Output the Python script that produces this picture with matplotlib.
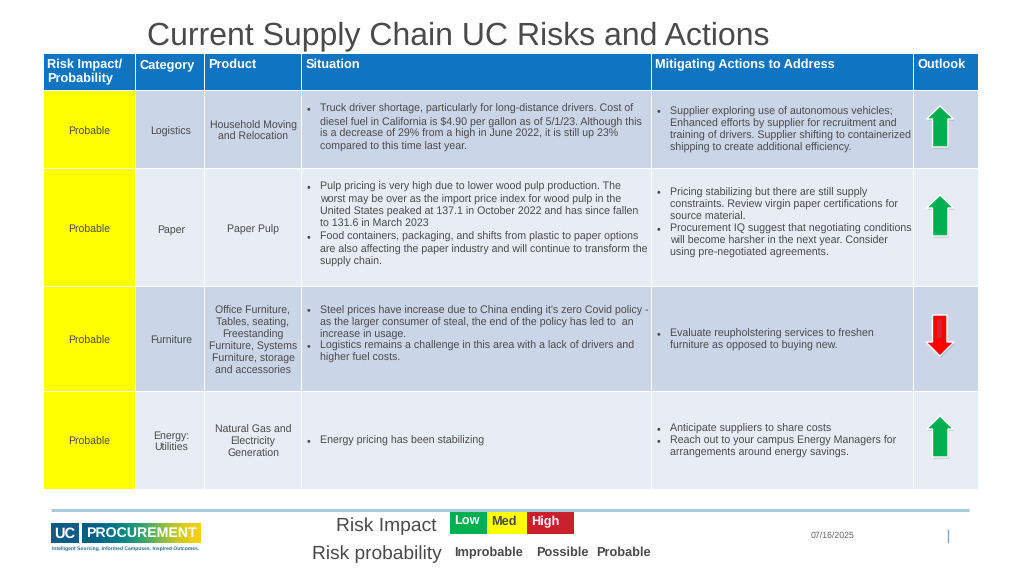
import numpy as np
import matplotlib
matplotlib.use('Agg')
import matplotlib.pyplot as plt
from matplotlib.patches import Rectangle, Polygon

plt.rcParams['font.family'] = ['Liberation Sans', 'DejaVu Sans']
plt.rcParams['text.hinting'] = 'no_hinting'

title = 'Current Supply Chain UC Risks and Actions'
headers = ['Risk Impact/\nProbability', 'Category', 'Product', 'Situation',
           'Mitigating Actions to Address', 'Outlook']
risk = ['Probable', 'Probable', 'Probable', 'Probable']
categories = ['Logistics', 'Paper', 'Furniture', 'Energy:\nUtilities']
products = ['Household Moving\nand Relocation',
            'Paper Pulp',
            'Office Furniture,\nTables, seating,\nFreestanding\nFurniture, Systems\nFurniture, storage\nand accessories',
            'Natural Gas and\nElectricity\nGeneration']
# each bullet is a list of wrapped lines
situation = [
    [['Truck driver shortage, particularly for long-distance drivers. Cost of',
      'diesel fuel in California is $4.90 per gallon as of 5/1/23. Although this',
      'is a decrease of 29% from a high in June 2022, it is still up 23%',
      'compared to this time last year.']],
    [['Pulp pricing is very high due to lower wood pulp production. The',
      'worst may be over as the import price index for wood pulp in the',
      'United States peaked at 137.1 in October 2022 and has since fallen',
      'to 131.6 in March 2023'],
     ['Food containers, packaging, and shifts from plastic to paper options',
      'are also affecting the paper industry and will continue to transform the',
      'supply chain.']],
    [["Steel prices have increase due to China ending it's zero Covid policy -",
      'as the larger consumer of steal, the end of the policy has led to  an',
      'increase in usage.'],
     ['Logistics remains a challenge in this area with a lack of drivers and',
      'higher fuel costs.']],
    [['Energy pricing has been stabilizing']],
]
actions = [
    [['Supplier exploring use of autonomous vehicles;',
      'Enhanced efforts by supplier for recruitment and',
      'training of drivers. Supplier shifting to containerized',
      'shipping to create additional efficiency.']],
    [['Pricing stabilizing but there are still supply',
      'constraints. Review virgin paper certifications for',
      'source material.'],
     ['Procurement IQ suggest that negotiating conditions',
      'will become harsher in the next year. Consider',
      'using pre-negotiated agreements.']],
    [['Evaluate reupholstering services to freshen',
      'furniture as opposed to buying new.']],
    [['Anticipate suppliers to share costs'],
     ['Reach out to your campus Energy Managers for',
      'arrangements around energy savings.']],
]
outlook = ['up', 'up', 'down', 'up']
impact_labels = ['Low', 'Med', 'High']
probability_labels = ['Improbable', 'Possible', 'Probable']
date_text = '07/16/2025'

# layout, in pixels of the 1024x576 slide
col_x = [43, 135.5, 204.5, 301.5, 651.5, 913.5, 978]
row_y = [54, 90.5, 168.5, 286.5, 391.5, 489]
band = ['#CBD5E8', '#E7ECF5', '#CBD5E8', '#E7ECF5']
text_col = '#4A4A4A'
sit_dy = [-1.6, -3, -4.6, 0.9]
act_dy = [0.4, -4.6, 0.9, 0.9]
mid_dy = [2.7, 2.7, 1.7, 1.7]
arrow_y = [127, 216, 335, 437]
fs = 7.65
fs_mid = 7.6

fig = plt.figure(figsize=(10.24, 5.76), dpi=100)
ax = fig.add_axes([0, 0, 1, 1])
ax.set_xlim(0, 1024)
ax.set_ylim(576, 0)
ax.axis('off')


def box(x0, y0, x1, y1, color):
    ax.add_patch(Rectangle((x0, y0), x1 - x0, y1 - y0, facecolor=color, edgecolor='none'))


def bullets(x, yc, items, line_h):
    n = sum(len(b) for b in items)
    y = yc - (n - 1) * line_h / 2
    for b in items:
        ax.text(x + 6, y, '•', fontsize=fs, color=text_col, ha='center', va='center')
        for line in b:
            ax.text(x + 18, y, line, fontsize=fs, color=text_col, ha='left', va='center')
            y += line_h


def arrow(cx, yc, way):
    if way == 'up':
        pts = [(cx, yc - 21), (cx + 13.5, yc - 8), (cx + 8, yc - 8), (cx + 8, yc + 20),
               (cx - 7.5, yc + 20), (cx - 7.5, yc - 8), (cx - 13.5, yc - 8)]
        color = '#00B050'
    else:
        pts = [(cx, yc + 21), (cx + 14, yc + 7), (cx + 7, yc + 7), (cx + 7, yc - 20),
               (cx - 7.5, yc - 20), (cx - 7.5, yc + 7), (cx - 14, yc + 7)]
        color = '#FF0000'
    ax.add_patch(Polygon(np.array(pts) + [1, 1.5], facecolor='#8C95A3', edgecolor='none', alpha=0.55))
    ax.add_patch(Polygon(pts, facecolor=color, edgecolor='white', linewidth=1.0, joinstyle='miter'))
    if way == 'down':
        # dark smudge in the shaft of the red arrow
        box(cx - 3, yc - 16, cx + 2, yc + 3, '#C9282F')


ax.text(147, 36, title, fontsize=23.0, color=text_col, ha='left', va='center')

# header
for i, h in enumerate(headers):
    box(col_x[i] + 0.5, row_y[0], col_x[i + 1] - 0.5, row_y[1] - 0.5, '#0F75C1')
    ax.text(col_x[i] + 3.8, 58.5, h, fontsize=9.2, fontweight='bold', color='white',
            ha='left', va='top', linespacing=1.24)

# body
for r in range(4):
    y0, y1 = row_y[r + 1] + 0.5, row_y[r + 2] - 0.5
    yc = (y0 + y1) / 2
    for c in range(6):
        box(col_x[c] + 0.5, y0, col_x[c + 1] - 0.5, y1, '#FFFF00' if c == 0 else band[r])
    ax.text(89, yc + mid_dy[r], risk[r], fontsize=fs_mid, color=text_col, ha='center', va='center')
    ax.text(171, yc + mid_dy[r], categories[r], fontsize=fs_mid, color=text_col, ha='center', va='center', linespacing=1.25)
    ax.text(253, yc + 2, products[r], fontsize=fs_mid, color=text_col, ha='center', va='center', linespacing=1.23)
    bullets(302, yc + sit_dy[r], situation[r], 12.5 if r < 2 else 11.9)
    bullets(652, yc + act_dy[r], actions[r], 12.1)
    arrow(940, arrow_y[r], outlook[r])

# footer rule
ax.plot([51, 969], [509.5, 509.5], color='#A9CBDD', linewidth=2.2, solid_capstyle='butt')

# logo
box(51, 523, 79, 543, '#0F5C86')
ax.imshow(np.array([[[0.0, 0.36, 0.53], [0.0, 0.55, 0.55], [0.4, 0.72, 0.35], [0.98, 0.82, 0.05]]]),
          extent=(82, 201, 543, 523), aspect='auto', interpolation='bicubic', zorder=1)
ax.set_xlim(0, 1024)
ax.set_ylim(576, 0)
ax.text(65, 533.5, 'UC', fontsize=10.5, fontweight='bold', color='white', ha='center', va='center', zorder=3)
ax.text(141.5, 533.5, 'PROCUREMENT', fontsize=10.15, fontweight='bold', color='white', ha='center', va='center', zorder=3)
ax.text(126, 549, 'Intelligent Sourcing. Informed Campuses. Inspired Outcomes.', fontsize=3.63,
        fontweight='bold', color='#1F6E8C', ha='center', va='center')

# risk key
ax.text(437, 526, 'Risk Impact', fontsize=13.9, color=text_col, ha='right', va='center')
ax.text(442, 554, 'Risk probability', fontsize=13.8, color=text_col, ha='right', va='center')
key_x = [450, 487, 527, 574]
key_col = ['#00B050', '#FFFF00', '#C9202B']
key_txt = ['white', text_col, 'white']
for i, lab in enumerate(impact_labels):
    box(key_x[i], 512, key_x[i + 1], 534, key_col[i])
    ax.text(key_x[i] + 4, 521.5, lab, fontsize=9.2, fontweight='bold', color=key_txt[i], ha='left', va='center')
for x, lab in zip([454, 536, 596], probability_labels):
    ax.text(x, 553, lab, fontsize=9.2, fontweight='bold', color=text_col, ha='left', va='center')

ax.text(833, 535.5, date_text, fontsize=6.3, color='#606060', ha='center', va='center')
ax.plot([947.5, 947.5], [530, 542], color='#7FA6C4', linewidth=1)

fig.savefig('out.png', dpi=100)
